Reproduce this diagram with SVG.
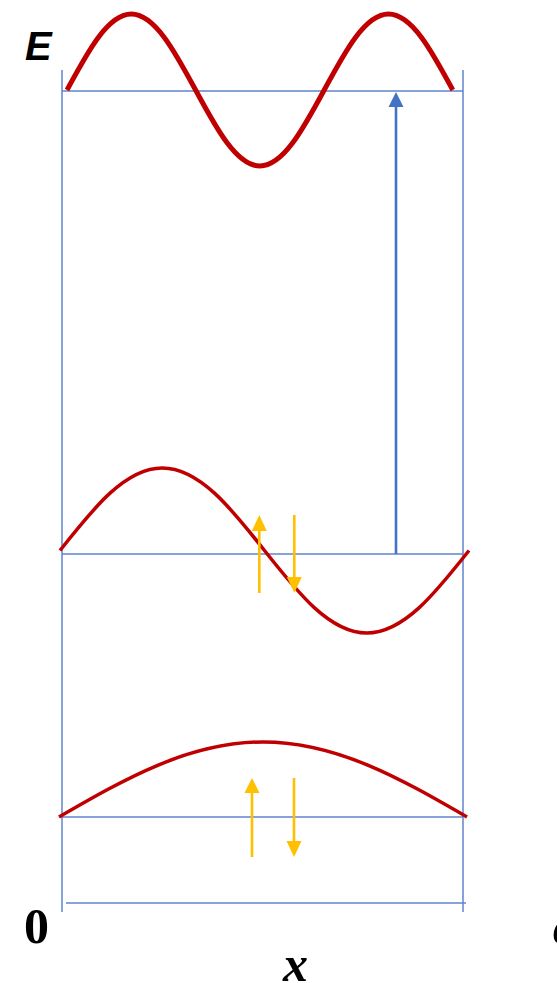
<svg xmlns="http://www.w3.org/2000/svg" width="557" height="983" viewBox="0 0 557 983">
<style>
.axis{stroke:#5F84CE;stroke-width:1.5;fill:none}
.wave{stroke:#C00000;fill:none;stroke-linecap:butt}
.spin{stroke:#FFC000;stroke-width:2.6;fill:none}
.spinhead{fill:#FFC000}
.lbl{fill:#000}
</style>
<rect width="557" height="983" fill="#fff"/>
<g id="axes">
<line class="axis" x1="62" y1="70" x2="62" y2="912"/>
<line class="axis" x1="463" y1="70" x2="463" y2="912"/>
<line class="axis" x1="66" y1="903" x2="466" y2="903"/>
</g>
<g id="level3">
<line class="axis" x1="62" y1="91" x2="463" y2="91"/>
<path class="wave" stroke-width="5" d="M67,90 C87.97,51.07 108.03,14 131.3,14 C154.57,14 174.63,51.07 195.6,90 C216.57,128.93 236.63,166 259.9,166 C283.17,166 303.23,128.93 324.2,90 C345.17,51.07 365.23,14 388.5,14 C411.77,14 431.83,51.07 452.8,90"/>
</g>
<g id="level2">
<line class="axis" x1="62" y1="554" x2="463" y2="554"/>
<path class="wave" stroke-width="3.5" d="M60,550.5 C93.34,508.24 125.25,468 162.25,468 C199.25,468 231.16,508.24 264.5,550.5 C297.84,592.76 329.75,633 366.75,633 C403.75,633 435.66,592.76 469,550.5"/>
</g>
<g id="level1">
<line class="axis" x1="62" y1="817" x2="463" y2="817"/>
<path class="wave" stroke-width="3.5" d="M59,817 C125.52,778.58 189.17,742 263,742 C336.83,742 400.48,778.58 467,817"/>
</g>
<g id="connectors">
<line x1="396" y1="554" x2="396" y2="104" stroke="#4472C4" stroke-width="2.6"/>
<polygon points="396,92 388.5,107 403.5,107" fill="#4472C4"/>
</g>
<g id="spins2">
<line class="spin" x1="259.3" y1="593" x2="259.3" y2="528"/>
<polygon class="spinhead" points="259.3,515 251.8,531 266.8,531"/>
<line class="spin" x1="294.3" y1="515" x2="294.3" y2="580"/>
<polygon class="spinhead" points="294.3,593 286.8,577 301.8,577"/>
</g>
<g id="spins1">
<line class="spin" x1="252" y1="857" x2="252" y2="790"/>
<polygon class="spinhead" points="252,778 244.5,793 259.5,793"/>
<line class="spin" x1="294" y1="778" x2="294" y2="843"/>
<polygon class="spinhead" points="294,857 286.5,841 301.5,841"/>
</g>
<g id="labels">
<text class="lbl" x="25" y="60" font-family="Liberation Sans, sans-serif" font-weight="bold" font-style="italic" font-size="40">E</text>
<text class="lbl" x="24" y="943" font-family="Liberation Serif, serif" font-weight="bold" font-size="50">0</text>
<text class="lbl" x="283" y="981" font-family="Liberation Serif, serif" font-weight="bold" font-style="italic" font-size="50">x</text>
<text class="lbl" x="553" y="943" font-family="Liberation Serif, serif" font-weight="bold" font-style="italic" font-size="50">a</text>
</g>
</svg>
